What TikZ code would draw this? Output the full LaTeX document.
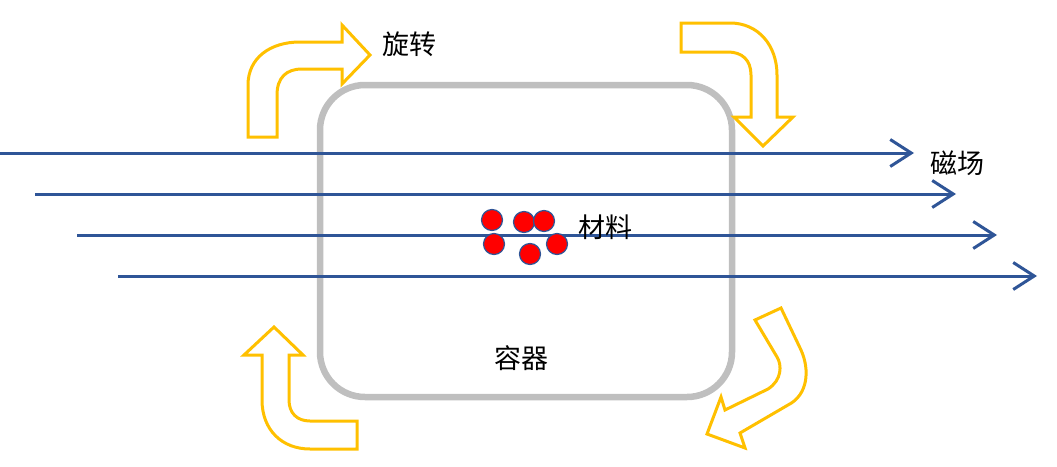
\documentclass[tikz,border=0pt]{standalone}
\usepackage{fontspec}
\setmainfont{Noto Sans CJK SC}
\definecolor{fieldblue}{RGB}{47,85,151}
\definecolor{wall}{RGB}{191,191,191}
\definecolor{turn}{RGB}{255,192,0}
\usepackage{tikz}
\usetikzlibrary{arrows.meta,positioning}
\tikzset{
  vessel/.style={draw=wall, line width=6.5pt, rounded corners=45pt,
                 minimum width=412pt, minimum height=312pt, inner sep=0pt},
  field/.style={fieldblue, line width=3pt,
                -{Straight Barb[length=21pt, width=27pt]}},
  grain/.style={circle, fill=red, draw=fieldblue, line width=1.2pt,
                minimum size=21pt, inner sep=0pt},
  turnarrow/.style={draw=turn, line width=3pt, fill=white, line join=miter},
  tag/.style={font=\fontsize{27}{32}\selectfont, inner sep=0pt},
}

\begin{document}
\begin{tikzpicture}[x=1pt, y=-1pt]
        \useasboundingbox (0,0) rectangle (1057,466);
        % container
        \node[vessel] (cont) at (526,241) {};
        % magnetic field lines
        \coordinate (f1s) at (0,153);   \coordinate (f1e) at (914,153);
        \coordinate (f2s) at (35,194);  \coordinate (f2e) at (956,194);
        \coordinate (f3s) at (77,235);  \coordinate (f3e) at (997,235);
        \coordinate (f4s) at (118,276); \coordinate (f4e) at (1037,276);
        \draw[field] (f1s) -- (f1e);
        \draw[field] (f2s) -- (f2e);
        \draw[field] (f3s) -- (f3e);
        \draw[field] (f4s) -- (f4e);
        % material grains
        \node[grain] (g1) at (492,220) {};
        \node[grain] (g2) at (524,222) {};
        \node[grain] (g3) at (544,221) {};
        \node[grain] (g4) at (494,244) {};
        \node[grain] (g5) at (557,244) {};
        \node[grain] (g6) at (530,254) {};
        % rotation arrows
        \draw[turnarrow] (248,137) -- (248,85) .. controls (248,58) and (270,42) .. (300,42)
          -- (342,42) -- (342,25) -- (370,55) -- (342,84) -- (342,69) -- (302,69)
          .. controls (286,69) and (277,78) .. (277,95) -- (277,137) -- cycle;
        \draw[turnarrow] (681,23) -- (730,23) .. controls (758,23) and (777,45) .. (777,75)
          -- (777,117) -- (793,117) -- (763,146) -- (734,117) -- (751,117) -- (751,75)
          .. controls (751,60) and (742,52) .. (728,52) -- (681,52) -- cycle;
        \draw[turnarrow] (357,449) -- (310,449) .. controls (282,449) and (262,430) .. (262,400)
          -- (262,355) -- (244,355) -- (274,327) -- (303,355) -- (289,355) -- (289,400)
          .. controls (289,413) and (297,421) .. (310,421) -- (357,421) -- cycle;
        \draw[turnarrow] (755,320) -- (781,308) -- (801,350) .. controls (810,370) and (808,395) .. (788,405)
          -- (740,433) -- (745,448) -- (707,434) -- (721,397) -- (725,410) -- (768,389)
          .. controls (782,380) and (782,365) .. (777,357) -- cycle;
        % labels
        \node[tag] (rot) at (409,44) {旋转};
        \node[tag] (mag) at (957,163) {磁场};
        \node[tag] (mat) at (605,227) {材料};
        \node[tag] (vtxt) at (521,358) {容器};
      \end{tikzpicture}
\end{document}
